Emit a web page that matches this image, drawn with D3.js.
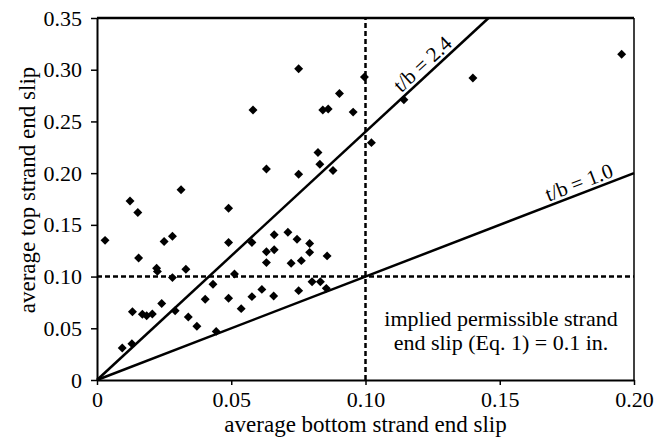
<!DOCTYPE html>
<html>
<head>
<meta charset="utf-8">
<script src="https://cdn.jsdelivr.net/npm/d3@7"></script>
<style>
  html, body { margin: 0; padding: 0; background: #fff; }
  #chart { width: 667px; height: 439px; }
  text { font-family: "Liberation Serif", "Times New Roman", serif; fill: #000; }
</style>
</head>
<body>
<div id="chart"></div>
<script>
// average bottom / top strand end slip (in.), one entry per specimen
const bottomSlip = [
  0.003, 0.0094, 0.0130, 0.0132, 0.0123, 0.0152, 0.0155, 0.0169, 0.0185, 0.0206,
  0.0222, 0.0225, 0.0241, 0.0250, 0.0281, 0.0281, 0.0291, 0.0313, 0.0331, 0.0340,
  0.0372, 0.0403, 0.0432, 0.0444, 0.0490, 0.0490, 0.0490, 0.0512, 0.0537, 0.0577,
  0.0577, 0.0581, 0.0614, 0.0631, 0.0631, 0.0631, 0.0660, 0.0660, 0.0658, 0.0711,
  0.0723, 0.0745, 0.0751, 0.0751, 0.0751, 0.0761, 0.0792, 0.0792, 0.0801, 0.0823,
  0.0830, 0.0832, 0.0841, 0.0854, 0.0857, 0.0861, 0.0879, 0.0903, 0.0954, 0.0996,
  0.1022, 0.1143, 0.1400, 0.1954
];
const topSlip = [
  0.135, 0.031, 0.035, 0.066, 0.173, 0.162, 0.118, 0.0635, 0.0622, 0.0638,
  0.108, 0.105, 0.074, 0.134, 0.139, 0.099, 0.067, 0.184, 0.107, 0.061,
  0.052, 0.078, 0.0925, 0.047, 0.166, 0.133, 0.079, 0.1025, 0.069, 0.133,
  0.0806, 0.261, 0.0876, 0.204, 0.124, 0.1135, 0.1405, 0.126, 0.0812, 0.1428,
  0.1128, 0.136, 0.301, 0.199, 0.0864, 0.1154, 0.132, 0.1234, 0.095, 0.220,
  0.2086, 0.095, 0.261, 0.0886, 0.120, 0.262, 0.2025, 0.277, 0.259, 0.293,
  0.2295, 0.271, 0.292, 0.315
];

const ratios = [2.4, 1.0];
const ratioLabels = ['t/b = 2.4', 't/b = 1.0'];
const ratioLabelAt = [0.124, 0.181];
const slipLimit = 0.1;

const xTicks = [0, 0.05, 0.10, 0.15, 0.20];
const xTickLabels = ['0', '0.05', '0.10', '0.15', '0.20'];
const yTicks = [0, 0.05, 0.10, 0.15, 0.20, 0.25, 0.30, 0.35];
const yTickLabels = ['0', '0.05', '0.10', '0.15', '0.20', '0.25', '0.30', '0.35'];

const xTitle = 'average bottom strand end slip';
const yTitle = 'average top strand end slip';
const noteLines = ['implied permissible strand', 'end slip (Eq. 1) = 0.1 in.'];


/**
 * Scatter chart of strand end slip.
 * @class
 */
class SlipChart {

  constructor() {

    this._margin = {
      left: 97,
      top: 18,
      right: 33,
      bottom: 59
    };
    this._outerWidth = 667;
    this._outerHeight = 439;

    this._points = bottomSlip.map(function(d, i) {
      return { x: d, y: topSlip[i] };
    });
  }


  renderTo(selector) {

    const margin = this._margin;
    const width = this._outerWidth - margin.left - margin.right;
    const height = this._outerHeight - margin.top - margin.bottom;

    const x = d3.scaleLinear().domain([0, 0.2]).range([0, width]);
    const y = d3.scaleLinear().domain([0, 0.35]).range([height, 0]);

    this._svg = d3.select(selector)
      .append('svg')
      .attr('width', this._outerWidth)
      .attr('height', this._outerHeight);

    const canvas = this._svg
      .append('g')
      .attr('transform', 'translate(' + [margin.left, margin.top] + ')');

    // frame: top and right
    canvas.append('line')
      .attr('x1', 0).attr('x2', width)
      .attr('y1', 0).attr('y2', 0)
      .style('stroke', '#000').style('stroke-width', 2.5);

    canvas.append('line')
      .attr('x1', width).attr('x2', width)
      .attr('y1', 0).attr('y2', height)
      .style('stroke', '#000').style('stroke-width', 1.5);

    // dashed limit lines
    canvas.append('line')
      .attr('x1', x(slipLimit)).attr('x2', x(slipLimit))
      .attr('y1', y(0)).attr('y2', y(0.35))
      .style('stroke', '#000').style('stroke-width', 2.5)
      .style('stroke-dasharray', '5,3');

    canvas.append('line')
      .attr('x1', x(0)).attr('x2', x(0.2))
      .attr('y1', y(slipLimit)).attr('y2', y(slipLimit))
      .style('stroke', '#000').style('stroke-width', 2.5)
      .style('stroke-dasharray', '5,3');

    // t/b ratio lines
    ratios.forEach(function(r, i) {
      const xEnd = Math.min(0.2, 0.35 / r);

      canvas.append('line')
        .attr('x1', x(0)).attr('y1', y(0))
        .attr('x2', x(xEnd)).attr('y2', y(xEnd * r))
        .style('stroke', '#000').style('stroke-width', 2.5);

      const angle = Math.atan2(y(0) - y(r * 0.1), x(0.1) - x(0));
      const off = 4;
      const px = x(ratioLabelAt[i]) - off * Math.sin(angle);
      const py = y(ratioLabelAt[i] * r) - off * Math.cos(angle);

      canvas.append('text')
        .attr('transform', 'translate(' + [px, py] + ') rotate(' + (-angle * 180 / Math.PI) + ')')
        .attr('text-anchor', 'middle')
        .style('font-size', '21px')
        .text(ratioLabels[i]);
    });

    // axes
    const xAxis = canvas.append('g')
      .attr('transform', 'translate(0,' + height + ')')
      .call(d3.axisBottom(x)
        .tickValues(xTicks)
        .tickFormat(function(d, i) { return xTickLabels[i]; })
        .tickSizeInner(5)
        .tickSizeOuter(0)
        .tickPadding(6));

    const yAxis = canvas.append('g')
      .call(d3.axisLeft(y)
        .tickValues(yTicks)
        .tickFormat(function(d, i) { return yTickLabels[i]; })
        .tickSizeInner(6)
        .tickSizeOuter(0)
        .tickPadding(9));

    [xAxis, yAxis].forEach(function(axis) {
      axis.select('.domain').style('stroke', '#000').style('stroke-width', 2);
      axis.selectAll('.tick line').style('stroke', '#000').style('stroke-width', 1.5);
      axis.selectAll('.tick text')
        .style('font-family', '"Liberation Serif", serif')
        .style('font-size', '22px')
        .style('fill', '#000');
    });

    // points
    canvas.selectAll('path.point')
      .data(this._points)
      .enter()
      .append('path')
      .attr('class', 'point')
      .attr('d', d3.symbol().type(d3.symbolSquare).size(40))
      .attr('transform', function(d) {
        return 'translate(' + [x(d.x), y(d.y)] + ') rotate(45)';
      })
      .style('fill', '#000');

    // note
    canvas.append('text')
      .attr('text-anchor', 'middle')
      .style('font-size', '22px')
      .selectAll('tspan')
      .data(noteLines)
      .enter()
      .append('tspan')
      .attr('x', 404)
      .attr('y', function(d, i) { return 308 + i * 24; })
      .text(d => d);

    // titles
    this._svg.append('text')
      .attr('x', margin.left + width / 2)
      .attr('y', 432)
      .attr('text-anchor', 'middle')
      .style('font-size', '23px')
      .text(xTitle);

    this._svg.append('text')
      .attr('transform', 'translate(35,190) rotate(-90)')
      .attr('text-anchor', 'middle')
      .style('font-size', '23px')
      .text(yTitle);

    return this;
  }
}

new SlipChart().renderTo('#chart');
</script>
</body>
</html>
